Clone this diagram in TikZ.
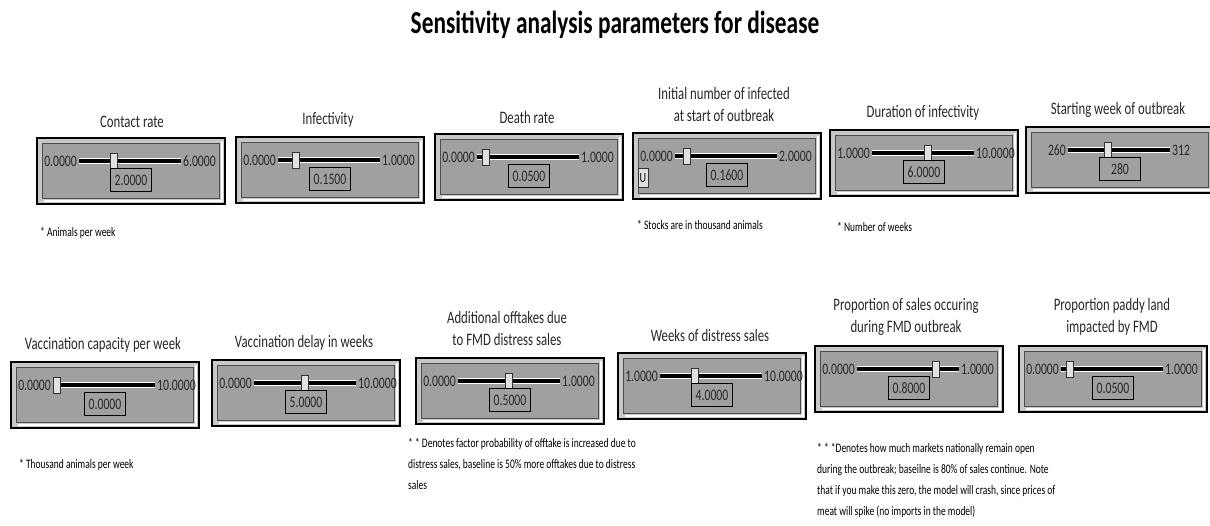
\documentclass[tikz,border=0pt]{standalone}
\usepackage{fontspec}
\newfontfamily\calib[FakeStretch=0.73]{Carlito}
\definecolor{panelgray}{RGB}{160,160,160}
\definecolor{framegray}{RGB}{200,200,200}
\definecolor{knobgray}{RGB}{225,225,225}
\definecolor{inkgray}{RGB}{40,40,40}
\usepackage{tikz}
\usetikzlibrary{calc}

\tikzset{
  sliderframe/.style={draw=black, line width=2pt, fill=framegray, minimum width=188pt, minimum height=66pt, inner sep=0pt, anchor=north west},
  sliderpanel/.style={draw=black!70, line width=1pt, fill=panelgray, minimum width=177pt, minimum height=55pt, inner sep=0pt},
  trackedge/.style={white, line width=6pt},
  track/.style={black, line width=3.5pt},
  sliderlabel/.style={font=\calib\fontsize{16}{18}\selectfont, inner sep=2pt, text=inkgray},
  knob/.style={draw=black!80, line width=1pt, fill=knobgray, minimum width=7pt, minimum height=16pt, inner sep=0pt},
  valuebox/.style={draw=black, line width=1.3pt, fill=panelgray, minimum width=41pt, minimum height=23pt, inner sep=0pt, font=\calib\fontsize{16}{18}\selectfont, text=inkgray},
  paramtitle/.style={font=\calib\fontsize{17.5}{22}\selectfont, align=center, inner sep=0pt, text=inkgray},
  note/.style={font=\calib\fontsize{13}{21}\selectfont, align=left, inner sep=0pt}
}

% slider: name, left, top, min, max, value, fraction
\newcommand{\paramslider}[7]{%
  \node[sliderframe] (#1) at (#2,#3) {};
  \node[sliderpanel] (#1-panel) at (#1.center) {};
  \draw[white, line width=1.5pt] ([shift={(2,2)}]#1-panel.south west) -- ([shift={(2,2)}]#1-panel.south east) -- ([shift={(2,-2)}]#1-panel.north east);
  \coordinate (#1-t0) at (#2+43,#3+24);
  \coordinate (#1-t1) at (#2+145,#3+24);
  \coordinate (#1-k0) at (#2+47,#3+24);
  \coordinate (#1-k1) at (#2+141,#3+24);
  \draw[trackedge] (#1-t0) -- (#1-t1);
  \draw[track] (#1-t0) -- (#1-t1);
  \node[sliderlabel, anchor=east] (#1-min) at (#1-t0) {#4};
  \node[sliderlabel, anchor=west] (#1-max) at (#1-t1) {#5};
  \node[knob] (#1-knob) at ($(#1-k0)!#7!(#1-k1)$) {};
  \node[valuebox] (#1-value) at (#2+95,#3+43) {#6};
}

\begin{document}
\begin{tikzpicture}[x=1pt, y=-1pt]
  \useasboundingbox[fill=white] (0,0) rectangle (1210,525);

  % Title
  \node[font=\calib\bfseries\fontsize{32}{36}\selectfont] (title) at (615,25) {Sensitivity analysis parameters for disease};

  % Contact rate
  \node[paramtitle] (t-contact) at (132,122) {Contact rate};
  \paramslider{contact}{36}{137}{0.0000}{6.0000}{2.0000}{0.333}
  \node[note, anchor=west] (n-contact) at (40,233) {* Animals per week};

  % Infectivity
  \node[paramtitle] (t-infect) at (328,120) {Infectivity};
  \paramslider{infect}{235}{136}{0.0000}{1.0000}{0.1500}{0.15}

  % Death rate
  \node[paramtitle] (t-death) at (527,117) {Death rate};
  \paramslider{death}{434}{133}{0.0000}{1.0000}{0.0500}{0.05}

  % Initial number of infected
  \node[paramtitle] (t-initial) at (724,104) {Initial number of infected\\at start of outbreak};
  \paramslider{initial}{632}{132}{0.0000}{2.0000}{0.1600}{0.08}
  \node[knob, minimum width=10pt, minimum height=19pt, font=\calib\fontsize{14}{16}\selectfont] (initial-u) at (643,178) {U};
  \node[note, anchor=west] (n-initial) at (637,225) {* Stocks are in thousand animals};

  % Duration of infectivity
  \node[paramtitle] (t-duration) at (923,113) {Duration of infectivity};
  \paramslider{duration}{829}{129}{1.0000}{10.0000}{6.0000}{0.556}
  \node[note, anchor=west] (n-duration) at (837,227) {* Number of weeks};

  % Starting week of outbreak
  \node[paramtitle] (t-start) at (1118,110) {Starting week of outbreak};
  \paramslider{start}{1025}{126}{260}{312}{280}{0.385}

  % Vaccination capacity per week
  \node[paramtitle] (t-vaccap) at (103,345) {Vaccination capacity per week};
  \paramslider{vaccap}{10}{361}{0.0000}{10.0000}{0.0000}{0}
  \node[note, anchor=west] (n-vaccap) at (19,465) {* Thousand animals per week};

  % Vaccination delay in weeks
  \node[paramtitle] (t-vacdelay) at (304,343) {Vaccination delay in weeks};
  \paramslider{vacdelay}{211}{359}{0.0000}{10.0000}{5.0000}{0.5}

  % Additional offtakes
  \node[paramtitle] (t-offtake) at (507,328) {Additional offtakes due\\to FMD distress sales};
  \paramslider{offtake}{415}{357}{0.0000}{1.0000}{0.5000}{0.5}
  \node[note, anchor=north west] (n-offtake) at (408,438) {* * Denotes factor probability of offtake is increased due to\\distress sales, baseline is 50\% more offtakes due to distress\\sales};

  % Weeks of distress sales
  \node[paramtitle] (t-distress) at (710,335) {Weeks of distress sales};
  \paramslider{distress}{617}{352}{1.0000}{10.0000}{4.0000}{0.333}

  % Proportion of sales
  \node[paramtitle] (t-sales) at (906,317) {Proportion of sales occuring\\during FMD outbreak};
  \paramslider{sales}{814}{345}{0.0000}{1.0000}{0.8000}{0.8}
  \node[note, anchor=north west] (n-sales) at (817,443) {* * *Denotes how much markets nationally remain open\\during the outbreak; baseilne is 80\% of sales continue. Note\\that if you make this zero, the model will crash, since prices of\\meat will spike (no imports in the model)};

  % Proportion paddy land
  \node[paramtitle] (t-paddy) at (1112,317) {Proportion paddy land\\impacted by FMD};
  \paramslider{paddy}{1018}{345}{0.0000}{1.0000}{0.0500}{0.05}
\end{tikzpicture}
\end{document}
